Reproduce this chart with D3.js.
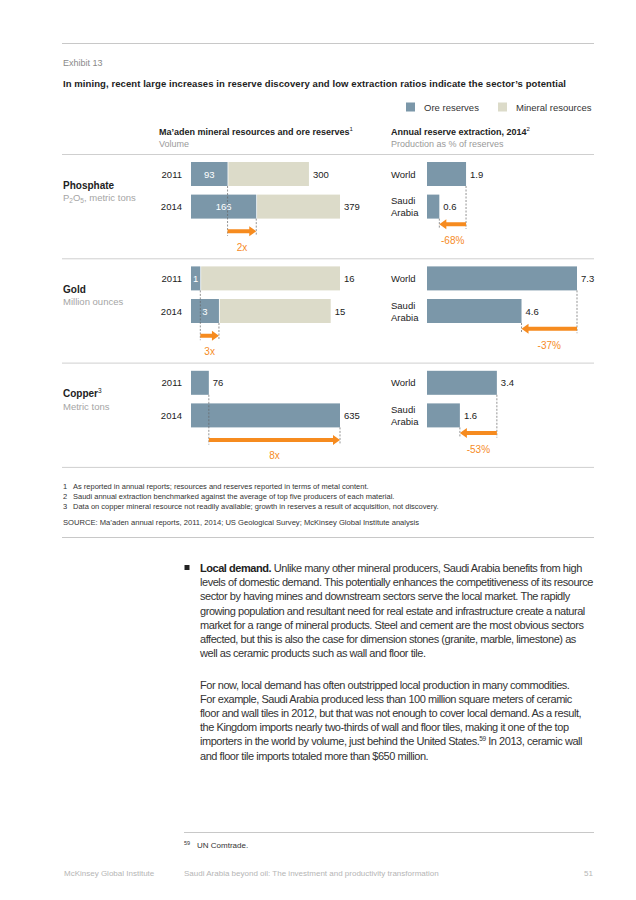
<!DOCTYPE html>
<html>
<head>
<meta charset="utf-8">
<script src="https://cdn.jsdelivr.net/npm/d3@7"></script>
<style>
  body { margin: 0; background: #fff; }
  svg text { font-family: "Liberation Sans", Arial, sans-serif; }
</style>
</head>
<body>
<svg width="636" height="900"></svg>
<script>
// data
var minerals = ["Phosphate", "Gold", "Copper"]
var units = ["P2O5, metric tons", "Million ounces", "Metric tons"]
var years = ["2011", "2014"]
var oreReserves = [[93, 166], [1, 3], [76, 635]]
var mineralResources = [[300, 379], [16, 15], [null, null]] // total incl. ore; copper n/a
var growth = ["2x", "3x", "8x"]
var regions = ["World", "Saudi Arabia"]
var extraction = [[1.9, 0.6], [7.3, 4.6], [3.4, 1.6]]
var change = ["-68%", "-37%", "-53%"]

var footnotes = [
  "As reported in annual reports; resources and reserves reported in terms of metal content.",
  "Saudi annual extraction benchmarked against the average of top five producers of each material.",
  "Data on copper mineral resource not readily available; growth in reserves a result of acquisition, not discovery."
]
var para1 = [
  "Unlike many other mineral producers, Saudi Arabia benefits from high",
  "levels of domestic demand. This potentially enhances the competitiveness of its resource",
  "sector by having mines and downstream sectors serve the local market. The rapidly",
  "growing population and resultant need for real estate and infrastructure create a natural",
  "market for a range of mineral products. Steel and cement are the most obvious sectors",
  "affected, but this is also the case for dimension stones (granite, marble, limestone) as",
  "well as ceramic products such as wall and floor tile."
]
var para2 = [
  "For now, local demand has often outstripped local production in many commodities.",
  "For example, Saudi Arabia produced less than 100 million square meters of ceramic",
  "floor and wall tiles in 2012, but that was not enough to cover local demand. As a result,",
  "the Kingdom imports nearly two-thirds of wall and floor tiles, making it one of the top",
  "importers in the world by volume, just behind the United States.",
  "and floor tile imports totaled more than $650 million."
]

var blue = "#7b97a9", beige = "#dcdbc9", orange = "#f68b1f", grey = "#9a9a9a", ink = "#222"

var svg = d3.select("svg")

// squeeze text to a width with letter spacing
function fit(sel, w) {
  var n = sel.node().textContent.length
  var cur = sel.node().getComputedTextLength()
  var ls = (w - cur) / n
  sel.attr("letter-spacing", ls)
  return ls
}

function hline(y, x1, x2, c, sw) {
  svg.append("line").attr("x1", x1).attr("x2", x2).attr("y1", y).attr("y2", y)
    .attr("stroke", c || "#cfcfcf").attr("stroke-width", sw || 1)
}

// header
hline(43.5, 62, 594, "#c8c8c8", 1.2)
svg.append("text").attr("x", 63).attr("y", 65.5).attr("font-size", 9).attr("fill", "#8a8a8a").text("Exhibit 13")
var title = svg.append("text").attr("x", 63).attr("y", 86.5).attr("font-size", 9.5).attr("font-weight", "bold").attr("fill", ink)
  .text("In mining, recent large increases in reserve discovery and low extraction ratios indicate the sector\u2019s potential")
fit(title, 503)

// legend
var legend = svg.append("g").attr("font-size", 9.5).attr("fill", "#333")
legend.append("rect").attr("x", 406).attr("y", 102.5).attr("width", 9).attr("height", 9).attr("fill", blue)
legend.append("text").attr("x", 424).attr("y", 110.5).text("Ore reserves")
legend.append("rect").attr("x", 498).attr("y", 102.5).attr("width", 9).attr("height", 9).attr("fill", beige)
legend.append("text").attr("x", 516).attr("y", 110.5).text("Mineral resources")

// column headers
var h1 = svg.append("text").attr("x", 159).attr("y", 134.5).attr("font-size", 9).attr("font-weight", "bold").attr("fill", ink)
h1.append("tspan").text("Ma\u2019aden mineral resources and ore reserves")
h1.append("tspan").attr("font-size", 6).attr("font-weight", "normal").attr("dy", -3.5).text("1")
svg.append("text").attr("x", 159).attr("y", 147).attr("font-size", 9).attr("fill", grey).text("Volume")
var h2 = svg.append("text").attr("x", 391).attr("y", 134.5).attr("font-size", 9).attr("font-weight", "bold").attr("fill", ink)
h2.append("tspan").text("Annual reserve extraction, 2014")
h2.append("tspan").attr("font-size", 6).attr("font-weight", "normal").attr("dy", -3.5).text("2")
svg.append("text").attr("x", 391).attr("y", 147).attr("font-size", 9).attr("fill", grey).text("Production as % of reserves")

hline(154.5, 62, 594)

var xR = d3.scaleLinear().domain([0, d3.max(extraction, function(d) { return d3.max(d) })]).range([427, 577])

function arrow(g, x1, x2, y) {
  // x1 tail, x2 tip
  var dir = x2 > x1 ? 1 : -1, hl = 7, hh = 5, sh = 2
  var xb = x2 - dir * hl
  g.append("path")
    .attr("d", "M" + x1 + "," + (y - sh) + "L" + xb + "," + (y - sh) + "L" + xb + "," + (y - hh) +
      "L" + x2 + "," + y + "L" + xb + "," + (y + hh) + "L" + xb + "," + (y + sh) + "L" + x1 + "," + (y + sh) + "Z")
    .attr("fill", orange)
}
function dash(g, x, y1, y2) {
  g.append("line").attr("x1", x).attr("x2", x).attr("y1", y1).attr("y2", y2)
    .attr("stroke", "#666").attr("stroke-width", 0.7).attr("stroke-dasharray", "2,1.5")
}

var barH = 24, rowGap = 32.6

minerals.forEach(function(m, i) {
  var top = 162 + i * 104.4
  var g = svg.append("g")
  var ore = oreReserves[i], tot = mineralResources[i]
  var totals = ore.map(function(d, j) { return tot[j] == null ? d : tot[j] })
  var xL = d3.scaleLinear().domain([0, d3.max(totals)]).range([191, 340])
  var ys = years.map(function(d, j) { return top + j * rowGap })

  // label
  var name = g.append("text").attr("x", 63).attr("y", top + 26.5).attr("font-size", 10).attr("font-weight", "bold").attr("fill", ink).text(m)
  if (i == 2) name.append("tspan").attr("font-size", 6.5).attr("font-weight", "normal").attr("dy", -4).text("3")
  var u = g.append("text").attr("x", 63).attr("y", top + 39).attr("font-size", 9.5).attr("fill", "#a5a5a5")
  if (i == 0) {
    u.append("tspan").text("P")
    u.append("tspan").attr("font-size", 6.5).attr("dy", 2).text("2")
    u.append("tspan").attr("dy", -2).text("O")
    u.append("tspan").attr("font-size", 6.5).attr("dy", 2).text("5")
    u.append("tspan").attr("dy", -2).text(", metric tons")
  } else u.text(units[i])

  // year rows
  g.selectAll("text.yr").data(years).enter().append("text").attr("class", "yr")
    .attr("x", 182).attr("y", function(d, j) { return ys[j] + barH / 2 + 3.5 })
    .attr("text-anchor", "end").attr("font-size", 9.5).attr("fill", ink).text(function(d) { return d })

  g.selectAll("rect.res").data(tot).enter().filter(function(d) { return d != null }).append("rect")
    .attr("x", function(d, j) { return xL(ore[j]) + 0.8 })
    .attr("y", function(d, j) { return ys[j] })
    .attr("width", function(d, j) { return xL(d) - xL(ore[j]) - 0.8 })
    .attr("height", barH).attr("fill", beige)
  g.selectAll("rect.ore").data(ore).enter().append("rect")
    .attr("x", xL(0)).attr("y", function(d, j) { return ys[j] })
    .attr("width", function(d) { return xL(d) - xL(0) })
    .attr("height", barH).attr("fill", blue)

  // values
  totals.forEach(function(t, j) {
    g.append("text").attr("x", xL(t) + 4).attr("y", ys[j] + barH / 2 + 3.5)
      .attr("font-size", 9.5).attr("fill", ink).text(t)
    if (tot[j] != null) {
      g.append("text").attr("x", (xL(0) + xL(ore[j])) / 2).attr("y", ys[j] + barH / 2 + 3.5)
        .attr("text-anchor", "middle").attr("font-size", 9.5).attr("fill", "#fff").text(ore[j])
    }
  })

  // growth arrow
  var ay = ys[1] + barH + 12.7
  dash(g, xL(ore[0]), ys[0] + barH, ay + 4.5)
  dash(g, xL(ore[1]), ys[1] + barH, ay + 4.5)
  arrow(g, xL(ore[0]), xL(ore[1]), ay)
  g.append("text").attr("x", (xL(ore[0]) + xL(ore[1])) / 2).attr("y", ys[1] + barH + 32)
    .attr("text-anchor", "middle").attr("font-size", 10).attr("fill", orange).text(growth[i])

  // extraction bars
  var ex = extraction[i]
  g.selectAll("rect.ex").data(ex).enter().append("rect")
    .attr("x", xR(0)).attr("y", function(d, j) { return ys[j] })
    .attr("width", function(d) { return xR(d) - xR(0) })
    .attr("height", barH).attr("fill", blue)
  ex.forEach(function(v, j) {
    g.append("text").attr("x", xR(v) + 4).attr("y", ys[j] + barH / 2 + 3.5)
      .attr("font-size", 9.5).attr("fill", ink).text(v.toFixed(1))
  })
  g.append("text").attr("x", 391).attr("y", ys[0] + barH / 2 + 3.5).attr("font-size", 9.5).attr("fill", ink).text(regions[0])
  var sa = regions[1].split(" ")
  g.append("text").attr("x", 391).attr("y", ys[1] + barH / 2 - 2.5).attr("font-size", 9.5).attr("fill", ink).text(sa[0])
  g.append("text").attr("x", 391).attr("y", ys[1] + barH / 2 + 9.5).attr("font-size", 9.5).attr("fill", ink).text(sa[1])

  var ry = ys[1] + barH + 5.7
  dash(g, xR(ex[0]), ys[0] + barH, ry + 4.5)
  dash(g, xR(ex[1]), ys[1] + barH, ry + 4.5)
  arrow(g, xR(ex[0]), xR(ex[1]), ry)
  g.append("text").attr("x", (xR(ex[0]) + xR(ex[1])) / 2).attr("y", ys[1] + barH + 25.5)
    .attr("text-anchor", "middle").attr("font-size", 10).attr("fill", orange).text(change[i])

  hline(154.5 + (i + 1) * 104.3, 62, 594)
})

// footnotes + source
footnotes.forEach(function(f, k) {
  svg.append("text").attr("x", 63).attr("y", 489 + k * 10).attr("font-size", 7.5).attr("fill", "#333").text(k + 1)
  svg.append("text").attr("x", 73).attr("y", 489 + k * 10).attr("font-size", 7.5).attr("fill", "#333").text(f)
})
svg.append("text").attr("x", 63).attr("y", 525).attr("font-size", 7.6).attr("fill", "#333")
  .text("SOURCE:  Ma\u2019aden annual reports, 2011, 2014; US Geological Survey; McKinsey Global Institute analysis")
hline(537.5, 62, 594, "#c8c8c8", 1.2)

// body text
var body = svg.append("g").attr("font-size", 11).attr("fill", "#333")
svg.append("rect").attr("x", 184.5).attr("y", 565).attr("width", 5).attr("height", 5).attr("fill", "#222")
var l1 = body.append("text").attr("x", 200).attr("y", 572)
l1.append("tspan").attr("font-weight", "bold").attr("fill", ink).text("Local demand.")
l1.append("tspan").text(" " + para1[0])
var lines1 = body.selectAll("text.p1").data(para1.slice(1)).enter().append("text").attr("class", "p1")
  .attr("x", 200).attr("y", function(d, k) { return 572 + (k + 1) * 14.2 }).text(function(d) { return d })
var lines2 = body.selectAll("text.p2").data(para2).enter().append("text").attr("class", "p2")
  .attr("x", 200).attr("y", function(d, k) { return 688.5 + k * 14.2 })
lines2.each(function(d, k) {
  var t = d3.select(this)
  t.append("tspan").text(d)
  if (k == 4) {
    t.append("tspan").attr("font-size", 6.5).attr("dy", -4).text("59")
    t.append("tspan").attr("dy", 4).text(" In 2013, ceramic wall")
  }
})
var ls = fit(lines1.filter(function(d, k) { return k == 0 }), 393)
body.selectAll("text").attr("letter-spacing", ls)

// page footnote + footer
hline(832.5, 184, 594, "#c8c8c8", 1)
svg.append("text").attr("x", 184).attr("y", 845).attr("font-size", 5.5).attr("fill", "#333").text("59")
svg.append("text").attr("x", 197).attr("y", 847.5).attr("font-size", 8).attr("fill", "#333").text("UN Comtrade.")
var foot = svg.append("g").attr("font-size", 8).attr("fill", "#b5b5b5")
foot.append("text").attr("x", 64).attr("y", 876).text("McKinsey Global Institute")
foot.append("text").attr("x", 184).attr("y", 876).text("Saudi Arabia beyond oil: The investment and productivity transformation")
foot.append("text").attr("x", 593).attr("y", 876).attr("text-anchor", "end").text("51")
</script>
</body>
</html>
